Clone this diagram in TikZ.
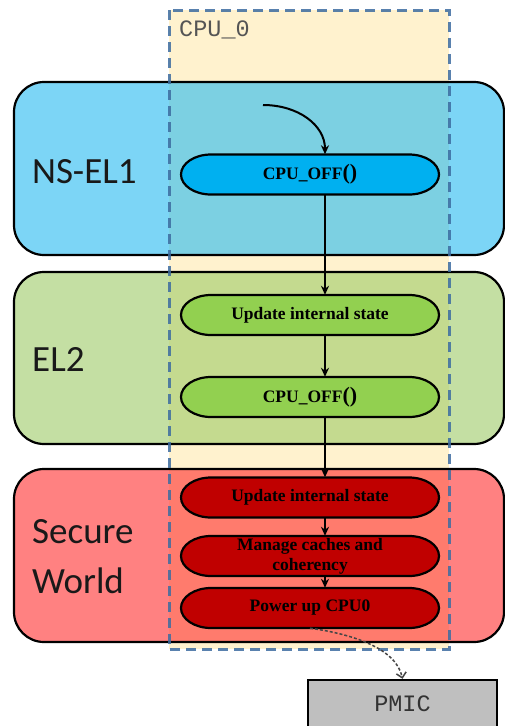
\documentclass[tikz,border=0pt]{standalone}
\usepackage{fontspec}
\setmainfont{Liberation Serif}
\newfontfamily\levelfont{Carlito}
\newfontfamily\codefont{Liberation Mono}
\usetikzlibrary{arrows.meta}

\definecolor{cpucream}{RGB}{255,242,206}
\definecolor{cpuedge}{RGB}{60,108,160}
\definecolor{nsbase}{RGB}{38,186,240}
\definecolor{hypbase}{RGB}{158,203,102}
\definecolor{secbase}{RGB}{255,45,45}
\definecolor{pillblue}{RGB}{0,176,240}
\definecolor{pillgreen}{RGB}{146,208,80}
\definecolor{pillred}{RGB}{192,0,0}
\definecolor{pmicgray}{RGB}{191,191,191}
\definecolor{codegray}{RGB}{85,85,85}
\definecolor{hintgray}{RGB}{70,70,70}

\tikzset{
  levelbox/.style={draw=black, line width=2.2pt, fill opacity=0.6, rounded corners=30pt},
  levellabel/.style={font=\levelfont\fontsize{37}{50}\selectfont, text=black!90,
                     inner sep=0pt, align=left},
  pillshape/.style={draw=black, line width=2.2pt},
  pilltext/.style={minimum width=258pt, minimum height=40pt, inner sep=0pt,
                   font=\bfseries\fontsize{17.5}{20}\selectfont, align=center, text=black},
  flow/.style={line width=2pt, -{Stealth[length=9pt,width=8pt]}},
  hint/.style={draw=hintgray, line width=1.5pt, dash pattern=on 3pt off 2pt,
               -{Straight Barb[length=5pt,width=10pt]}},
  cpuframe/.style={draw=cpuedge, draw opacity=0.85, line width=3pt,
                   dash pattern=on 10pt off 6pt},
}

% rounded pill with elliptical ends; #1 name, #2 x, #3 y, #4 fill, #5 text
\newcommand\pillnode[5]{%
  \draw[pillshape, fill=#4] (#2-99,#3-20) -- (#2+99,#3-20)
    arc[start angle=90, end angle=-90, x radius=30pt, y radius=20pt]
    -- (#2-99,#3+20)
    arc[start angle=270, end angle=90, x radius=30pt, y radius=20pt] -- cycle;
  \node[pilltext] (#1) at (#2,#3) {#5};
}

\begin{document}
\begin{tikzpicture}[x=1pt, y=-1pt]
  \clip (0,0) rectangle (505,726);
  \fill[white] (0,0) rectangle (505,726);

  % CPU_0 region backdrop
  \fill[cpucream] (169,10) rectangle (449,649);

  % exception levels
  \draw[levelbox, fill=nsbase]  (14,82)  rectangle (504,255);
  \draw[levelbox, fill=hypbase] (14,272) rectangle (504,444);
  \draw[levelbox, fill=secbase] (14,469) rectangle (504,642);

  \node[levellabel, anchor=base west] (nslabel)  at (32,183) {NS-EL1};
  \node[levellabel, anchor=base west] (hyplabel) at (32,371) {EL2};
  \node[levellabel, anchor=west]      (seclabel) at (32,557) {Secure\\World};

  % CPU_0 frame
  \draw[cpuframe] (169,10) rectangle (449,649);
  \node[anchor=base west, inner sep=0pt, text=codegray,
        font=\codefont\fontsize{23.5}{26}\selectfont] (cpulabel) at (179,36) {CPU\_0};

  % steps
  \pillnode{nsoff}{310}{174.5}{pillblue}{CPU\_OFF{\fontsize{22}{22}\selectfont()}}
  \pillnode{hypupd}{310}{315}{pillgreen}{Update internal state}
  \pillnode{hypoff}{310}{397}{pillgreen}{CPU\_OFF{\fontsize{22}{22}\selectfont()}}
  \pillnode{secupd}{310}{497.5}{pillred}{Update internal state}
  \pillnode{seccache}{310}{556}{pillred}{Manage caches and\\coherency}
  \pillnode{secpwr}{310}{608}{pillred}{Power up CPU0}

  % PMIC
  \node[draw=black, line width=2.4pt, fill=pmicgray, minimum width=189pt, minimum height=48pt,
        inner sep=0pt, text=black!80, font=\codefont\fontsize{23.5}{26}\selectfont]
        (pmic) at (402.5,704) {PMIC};

  % control flow
  \coordinate (call) at (263,105);
  \draw[flow] (call) .. controls (298,105) and (325,125) .. ([xshift=15pt]nsoff.north);
  \draw[flow] ([xshift=15pt]nsoff.south)    -- ([xshift=15pt]hypupd.north);
  \draw[flow] ([xshift=15pt]hypupd.south)   -- ([xshift=15pt]hypoff.north);
  \draw[flow] ([xshift=15pt]hypoff.south)   -- ([xshift=15pt]secupd.north);
  \draw[flow] ([xshift=15pt]secupd.south)   -- ([xshift=15pt]seccache.north);
  \draw[flow] ([xshift=15pt]seccache.south) -- ([xshift=15pt]secpwr.north);
  \draw[hint] (secpwr.south) .. controls (352,634) and (396,648) .. (pmic.north);
\end{tikzpicture}
\end{document}
